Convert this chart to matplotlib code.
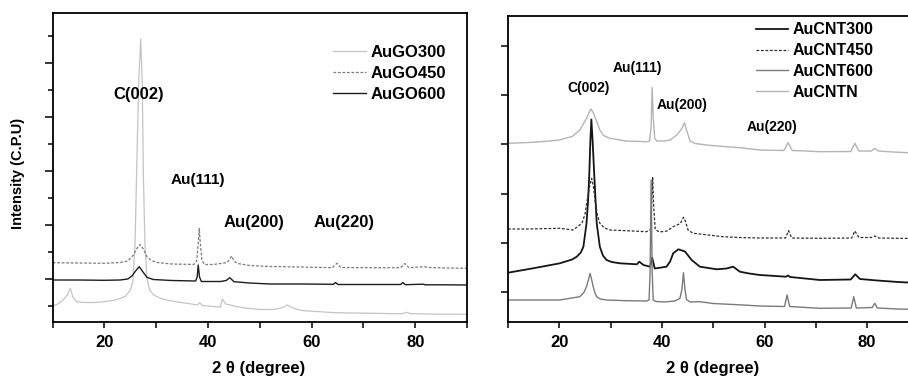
import matplotlib
matplotlib.use('Agg')
import matplotlib.pyplot as plt
from matplotlib.ticker import MultipleLocator, NullFormatter

plt.rcParams['font.family'] = ['Liberation Sans', 'DejaVu Sans']
plt.rcParams['font.weight'] = 'bold'

# ---------------- Left panel data (AuGO) ----------------
go300_x = [10, 11, 12, 12.8, 13.4, 13.9, 14.6, 16, 18, 20, 22, 23, 24, 25, 25.5, 25.9, 26.2, 26.6,
           27.0, 27.3, 27.5, 27.8, 28.2, 28.7, 29.5, 30.8, 32, 34, 36, 37.9, 38.4, 38.9, 39.8, 41,
           42.4, 42.75, 43.4, 44.7, 45.5, 47, 50, 52.5, 54.2, 55.3, 56.4, 58, 61, 64.4, 68, 72, 76,
           77.6, 78.3, 79.2, 82, 86, 90]
go300_y = [27, 29, 33, 38, 44.7, 36, 31.3, 30.5, 30.5, 31.3, 33, 34.5, 36.5, 43, 52, 90, 160, 250,
           294, 250, 160, 90, 55, 43, 38, 34.7, 33, 31, 29.7, 28, 30.3, 27.5, 27, 26.5,
           26, 34, 29, 27.5, 26.5, 25, 23.5, 23.5, 25, 28, 25, 22.5, 21.5, 20.3, 20, 19.7, 19.3,
           19.3, 20.7, 19.3, 19, 18.8, 18.7]

go450_x = [10, 15, 20, 23, 24.5, 25.6, 26.3, 26.9, 27.5, 28.2, 29, 30.2, 33, 37.25, 37.8, 38.1,
           38.3, 38.5, 38.8, 39.3, 41, 43.7, 44.2, 44.55, 45, 45.7, 48, 52, 58, 64, 64.9, 65.6,
           70, 77.2, 78.0, 78.8, 81.8, 82.5, 86, 90]
go450_y = [70.3, 70, 69.7, 70.5, 72, 78, 85, 88.5, 84, 76.3, 72.5, 70.5, 69, 68.5, 72, 90,
           104.7, 90, 73, 68.5, 68.5, 70.5, 74, 77, 72, 69.5, 67.5, 66.5, 66, 65.3, 69.7, 65.5,
           65.3, 65.3, 69.5, 65.3, 66.3, 65.5, 65, 64.7]

go600_x = [10, 15, 20, 23, 24.5, 25.3, 26.0, 26.7, 27.3, 28.2, 29.4, 33, 37.6, 37.9, 38.1, 38.35,
           38.7, 40, 42.4, 43.5, 44.2, 45, 48, 52, 58, 64.2, 64.6, 65.1, 70, 77.2, 77.6, 78.1,
           81.5, 82, 86, 90]
go600_y = [53, 53, 52.7, 53, 54, 57, 62, 66.3, 62, 55.7, 53.5, 52.5, 52, 56, 68, 56,
           51.5, 51.5, 51.5, 52.5, 55.3, 51.3, 50, 49, 49, 48.7, 50.5, 48.5, 48.5, 48.5, 50.5, 48.3,
           48.8, 48.2, 48.2, 48]

left_labels = ['AuGO300', 'AuGO450', 'AuGO600']
left_peaks = ['C(002)', 'Au(111)', 'Au(200)', 'Au(220)']
left_peak_x = [26.7, 38.0, 48.8, 66.3]
left_peak_y = [238, 153, 110, 111]

# ---------------- Right panel data (AuCNT) ----------------
cntn_x = [10, 14, 17, 20, 22.5, 24, 25.3, 25.8, 26.2, 26.6, 27.2, 27.9, 28.6, 29.9, 33, 37.0, 37.6,
          37.9, 38.1, 38.3, 38.6, 39.0, 40.5, 41.6, 42.9, 43.9, 44.4, 44.8, 45.5, 46.5, 48.7, 52,
          55.2, 59.1, 63.8, 64.6, 65.4, 68, 70.8, 76.8, 77.6, 78.4, 80.8, 81.5, 82.2, 85, 88, 90]
cntn_y = [198.2, 199, 200, 201.5, 205, 211.5, 223, 229, 232.5, 229, 221.5, 211.5, 206, 203.2, 200.5,
          199.8, 200.5, 215, 254, 225, 203, 200.5, 200.5, 201.5, 206.5, 213, 218.8, 211.5, 200.5,
          198, 196.5, 195, 193.8, 191.5, 191, 198.8, 191, 190.5, 189.8, 190, 198.2, 190.5, 190.5,
          193.2, 190.5, 189.5, 188.8, 188.5]

cnt450_x = [10, 14, 20.1, 22.7, 24.4, 25.0, 25.45, 25.9, 26.3, 26.65, 26.95, 27.4, 27.9, 28.8, 29.9,
            33.1, 37.0, 37.8, 38.0, 38.2, 38.4, 38.7, 39.5, 41, 42.2, 43.6, 44.2, 44.6, 45.1, 46.1,
            47.4, 51.9, 55, 59.1, 64.1, 64.7, 65.3, 70.8, 77.0, 77.6, 78.4, 80.8, 81.5, 82.3, 86, 90]
cnt450_y = [112.5, 112.5, 113.2, 111.5, 118.2, 127, 141.5, 155, 163.2, 155, 141.5, 127, 118.2, 113.5,
            111.5, 110.8, 109.8, 112, 135, 164.5, 135, 112, 109.5, 110.5, 114.8, 118, 124.2, 120,
            111.5, 108.2, 107.5, 104.8, 104, 103.5, 103.5, 110.8, 103.5, 103.2, 103.5, 110.5, 104,
            104, 105.5, 103.5, 103.2, 103]

cnt300_x = [10, 14.9, 20.1, 22.5, 23.4, 24.2, 24.7, 25.3, 25.6, 25.85, 26.05, 26.25, 26.5, 26.8,
            27.3, 27.9, 28.5, 29.2, 30.2, 31.8, 35.1, 35.6, 36.4, 37.7, 38.1, 38.6, 40.9, 41.6,
            42.2, 43.2, 44.5, 45.8, 47.4, 50.7, 52.6, 53.9, 55.2, 57, 59.1, 64.2, 64.6, 65.0, 70.8,
            76.8, 77.7, 78.6, 82, 86, 90]
cnt300_y = [68.8, 73.2, 78.2, 82, 84.8, 89, 94.8, 118, 140, 168, 200, 222, 200, 168,
            118, 94.8, 86, 81.5, 79.5, 78.2, 77.2, 79.8, 76.5, 74.8, 83.8, 73, 74.8, 80,
            88.2, 92.2, 90, 81.5, 74.8, 72.2, 73, 74.8, 69.8, 68, 66.5, 64.8, 66, 64.5, 61.5,
            62, 67.2, 62.5, 61, 59.5, 58.5]

cnt600_x = [10, 15, 20.1, 24.0, 24.8, 25.3, 25.7, 26.0, 26.3, 26.6, 27.0, 27.3, 28.0, 29.2, 33,
            37.0, 37.5, 37.7, 37.9, 38.1, 38.3, 38.8, 40.5, 42.5, 43.5, 43.9, 44.2, 44.5, 44.8,
            45.5, 47.4, 50, 55.8, 59.1, 63.9, 64.4, 64.9, 70.8, 76.9, 77.4, 77.9, 81.0, 81.5, 82.0,
            86, 90]
cnt600_y = [41.5, 41.5, 41.5, 44.8, 49, 54.8, 62, 68.2, 62, 54.8, 48, 44.8, 42.5, 41.5, 40.8,
            40.5, 41.5, 70, 161.5, 70, 41.5, 40, 39.5, 40.5, 43, 52, 68.8, 52, 42, 39.5, 39.8, 38,
            36.5, 35.5, 35, 46.5, 35, 33.2, 33.5, 44.8, 33.5, 34, 38.2, 33.5, 32.5, 32]

right_labels = ['AuCNT300', 'AuCNT450', 'AuCNT600', 'AuCNTN']
right_peaks = ['C(002)', 'Au(111)', 'Au(200)', 'Au(220)']
right_peak_x = [25.8, 35.3, 43.9, 61.5]
right_peak_y = [253.5, 273.5, 236.5, 214.5]

xticks = [20, 40, 60, 80]

# ---------------- Figure ----------------
fig = plt.figure(figsize=(9.08, 3.77), dpi=100)
W, H = 908.0, 377.0
axL = fig.add_axes([52.7 / W, 1 - 322 / H, 414.3 / W, 309 / H])
axR = fig.add_axes([508 / W, 1 - 322 / H, 410.4 / W, 306 / H])

dash = (0, (2.2, 1.4))
axL.plot(go300_x, go300_y, color='#c4c4c4', lw=0.9, label=left_labels[0])
axL.plot(go450_x, go450_y, color='#7a7a7a', lw=0.9, ls=dash, label=left_labels[1])
axL.plot(go600_x, go600_y, color='#1e1e1e', lw=1.0, label=left_labels[2])

axR.plot(cnt300_x, cnt300_y, color='#151515', lw=1.3, label=right_labels[0])
axR.plot(cnt450_x, cnt450_y, color='#2e2e2e', lw=0.9, ls=dash, label=right_labels[1])
axR.plot(cnt600_x, cnt600_y, color='#7a7a7a', lw=1.0, label=right_labels[2])
axR.plot(cntn_x, cntn_y, color='#b4b4b4', lw=1.0, label=right_labels[3])

axL.set_xlim(10, 90)
axL.set_ylim(11, 320)
axR.set_xlim(10, 90)
axR.set_ylim(19.5, 325.5)

for ax in (axL, axR):
    ax.set_xticks(xticks)
    ax.xaxis.set_minor_locator(MultipleLocator(10))
    ax.tick_params(axis='x', which='major', direction='out', length=4.5, width=1.1,
                   labelsize=12, pad=5)
    ax.tick_params(axis='x', which='minor', direction='out', length=4, width=1.1)
    ax.tick_params(axis='x', top=False, which='both')
    ax.tick_params(axis='y', right=False, which='both')
    for lab in ax.get_xticklabels():
        lab.set_fontweight('bold')
    for s in ax.spines.values():
        s.set_linewidth(1.3)
    ax.set_xlabel('2 θ (degree)', fontsize=12, fontweight='bold')

axL.yaxis.set_major_locator(MultipleLocator(54))
axL.yaxis.set_minor_locator(MultipleLocator(27))
axL.yaxis.set_major_formatter(NullFormatter())
axL.tick_params(axis='y', which='major', direction='out', length=5.5, width=1.1)
axL.tick_params(axis='y', which='minor', direction='out', length=3.5, width=1.1)

axR.yaxis.set_major_locator(MultipleLocator(49.3))
axR.yaxis.set_minor_locator(MultipleLocator(1000))
axR.yaxis.set_major_formatter(NullFormatter())
axR.tick_params(axis='y', which='major', direction='out', length=5, width=1.1)

axL.set_ylabel('Intensity (C.P.U)', fontsize=10.5, fontweight='bold')
axL.yaxis.set_label_coords(-0.067, 0.482)
axL.xaxis.set_label_coords(0.498, -0.125)
axR.xaxis.set_label_coords(0.499, -0.127)

for t, x, y in zip(left_peaks, left_peak_x, left_peak_y):
    axL.text(x, y, t, fontsize=12 if t != 'Au(111)' else 11, fontweight='bold',
             ha='center', va='center')
for t, x, y in zip(right_peaks, right_peak_x, right_peak_y):
    axR.text(x, y, t, fontsize=10, fontweight='bold', ha='center', va='center')

legL = axL.legend(loc='upper left', bbox_to_anchor=(0.6766, 0.898), frameon=False,
                  fontsize=12, handlelength=1.95, handletextpad=0.3, labelspacing=0.36,
                  borderpad=0, borderaxespad=0)
legR = axR.legend(loc='upper left', bbox_to_anchor=(0.605, 0.979), frameon=False,
                  fontsize=11.5, handlelength=2.0, handletextpad=0.3, labelspacing=0.36,
                  borderpad=0, borderaxespad=0)
for leg in (legL, legR):
    for txt in leg.get_texts():
        txt.set_fontweight('bold')

fig.savefig('out.png', dpi=100)
